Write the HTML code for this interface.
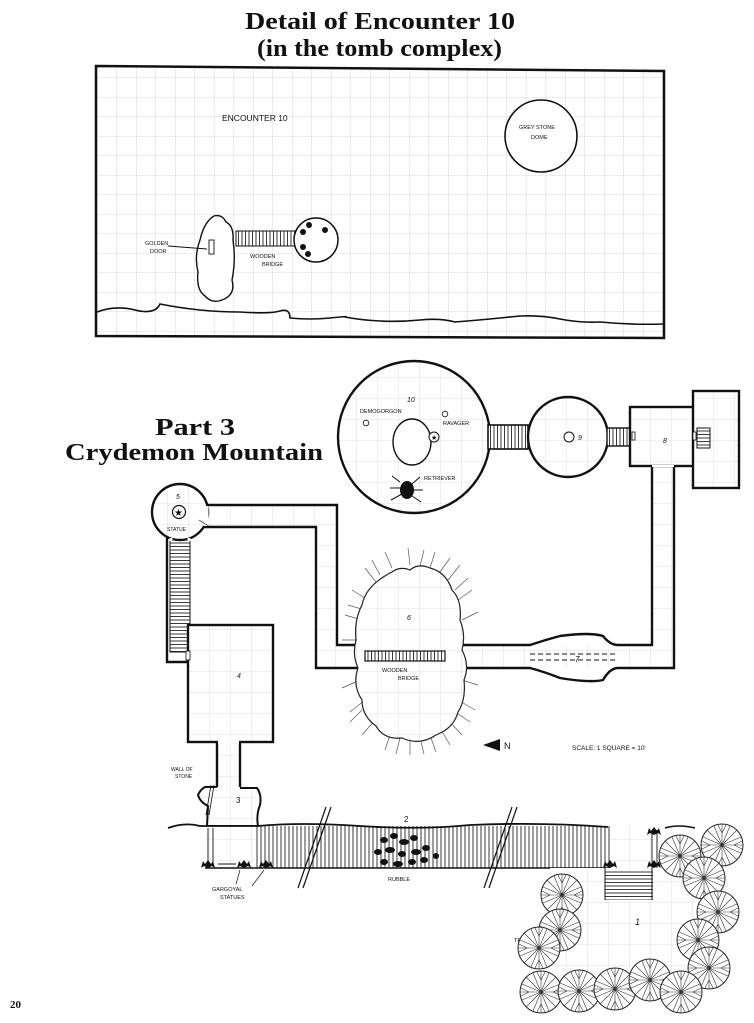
<!DOCTYPE html>
<html><head><meta charset="utf-8"><style>
html,body{margin:0;padding:0;background:#fff}
svg{display:block}
.t{font-family:"Liberation Serif",serif;font-weight:bold;fill:#111}
.l{font-family:"Liberation Sans",sans-serif;fill:#111}
</style></head><body>
<svg width="754" height="1023" viewBox="0 0 754 1023" xmlns="http://www.w3.org/2000/svg">
<defs>
<pattern id="g" width="19.5" height="19.5" patternUnits="userSpaceOnUse" x="0" y="0">
<path d="M19.5 0V19.5H0" fill="none" stroke="#d0d0d0" stroke-width="0.8"/>
</pattern>
<pattern id="g2" width="21" height="21" patternUnits="userSpaceOnUse">
<rect width="21" height="21" fill="#fff"/>
<path d="M21 0V21H0" fill="none" stroke="#d6d6d6" stroke-width="0.8"/>
</pattern>
<pattern id="hv" width="4" height="10" patternUnits="userSpaceOnUse">
<rect width="4" height="10" fill="#fff"/><path d="M1 0V10" stroke="#222" stroke-width="0.9"/>
</pattern>
<pattern id="st" width="10" height="3.5" patternUnits="userSpaceOnUse">
<rect width="10" height="3.5" fill="#fff"/><path d="M0 0.5H10" stroke="#222" stroke-width="0.9"/>
</pattern>
<pattern id="sv" width="3.5" height="10" patternUnits="userSpaceOnUse">
<rect width="3.5" height="10" fill="#fff"/><path d="M0.5 0V10" stroke="#222" stroke-width="0.9"/>
</pattern>
<g id="tree">
<circle r="21" fill="#fff" stroke="#222" stroke-width="1"/>
<g stroke="#333" stroke-width="0.6">
<path d="M0 0L0 -21M0 0L8 -19M0 0L15 -15M0 0L19 -8M0 0L21 0M0 0L19 8M0 0L15 15M0 0L8 19M0 0L0 21M0 0L-8 19M0 0L-15 15M0 0L-19 8M0 0L-21 0M0 0L-19 -8M0 0L-15 -15M0 0L-8 -19"/>
<path d="M0 -12L4 -20M0 -12L-4 -20M12 0L20 4M12 0L20 -4M0 12L4 20M0 12L-4 20M-12 0L-20 4M-12 0L-20 -4"/>
</g>
</g>
<g id="garg" fill="#111"><path d="M-7 4L-5 -3L-3 0L0 -4L3 0L5 -3L7 4L4 2L0 4L-4 2Z"/></g>
</defs>

<text class="t" x="245" y="29" font-size="24" textLength="270" lengthAdjust="spacingAndGlyphs">Detail of Encounter 10</text>
<text class="t" x="257" y="56" font-size="24" textLength="245" lengthAdjust="spacingAndGlyphs">(in the tomb complex)</text>

<!-- top box -->
<rect x="96" y="67" width="568" height="271" fill="url(#g)"/>
<path d="M96 66L664 71L664 338L96 336Z" fill="none" stroke="#111" stroke-width="2.5"/>
<path d="M97 312Q115 305 135 310T160 304Q180 308 200 310T240 312Q270 314 280 311T290 318Q310 320 330 318T345 317Q360 320 380 321T420 320T455 322Q480 320 500 318T520 316Q540 315 560 319T600 322Q630 325 663 324" fill="none" stroke="#111" stroke-width="1.6"/>
<text class="l" x="222" y="121" font-size="8.5">ENCOUNTER 10</text>
<circle cx="541" cy="136" r="36" fill="#fff" stroke="#111" stroke-width="1.6"/>
<text class="l" x="519" y="129" font-size="5.5">GREY STONE</text>
<text class="l" x="531" y="139" font-size="5.5">DOME</text>
<path d="M214 216Q222 214 226 222Q234 226 233 240Q236 260 232 280Q236 295 222 300Q212 304 205 296Q196 290 198 272Q194 256 200 240Q204 222 214 216Z" fill="#fff" stroke="#111" stroke-width="1.4"/>
<rect x="209" y="240" width="5" height="14" fill="#fff" stroke="#111" stroke-width="0.9"/>
<path d="M168 246L207 249" stroke="#111" stroke-width="0.9"/>
<text class="l" x="145" y="245" font-size="5.5">GOLDEN</text>
<text class="l" x="150" y="253" font-size="5.5">DOOR</text>
<rect x="236" y="231" width="62" height="15" fill="url(#sv)" stroke="#111" stroke-width="1"/>
<text class="l" x="250" y="258" font-size="5.5">WOODEN</text>
<text class="l" x="262" y="266" font-size="5.5">BRIDGE</text>
<circle cx="316" cy="240" r="22" fill="#fff" stroke="#111" stroke-width="1.5"/>
<g fill="#111"><circle cx="303" cy="232" r="3"/><circle cx="309" cy="225" r="3"/><circle cx="325" cy="230" r="3"/><circle cx="303" cy="247" r="3"/><circle cx="308" cy="254" r="3"/></g>

<!-- Part 3 title -->
<text class="t" x="155" y="435" font-size="24" textLength="80" lengthAdjust="spacingAndGlyphs">Part 3</text>
<text class="t" x="65" y="460" font-size="24" textLength="258" lengthAdjust="spacingAndGlyphs">Crydemon Mountain</text>

<!-- corridors -->
<g fill="url(#g2)" stroke="none">
<path d="M200 505H337V645H360V668H316V527H200Z"/>
<path d="M455 645H652V466H674V668H455Z"/>
<rect x="167" y="535" width="23" height="127"/>
<rect x="217" y="740" width="23" height="50"/>
</g>
<g fill="none" stroke="#111" stroke-width="2.4">
<path d="M203 505H337V645H358"/>
<path d="M203 527H316V668H358"/>
<path d="M462 645H530Q545 640 560 636Q590 632 603 636Q610 645 618 645H652V466"/>
<path d="M462 668H530Q545 672 560 678Q590 683 603 680Q610 668 618 668H674V466"/>
<path d="M167 535V662H188"/>
<path d="M217 742V787M240 742V787"/>
</g>
<path d="M530 654H615M530 660H615" stroke="#111" stroke-width="1" stroke-dasharray="5 3"/>
<text class="l" x="575" y="662" font-size="8" font-style="italic">7</text>
<rect x="170" y="540" width="20" height="112" fill="url(#st)" stroke="#111" stroke-width="1"/>

<!-- room 10 -->
<ellipse cx="414" cy="437" rx="76" ry="76" fill="url(#g2)" stroke="#111" stroke-width="2.4"/>
<ellipse cx="412" cy="442" rx="19" ry="23" fill="#fff" stroke="#111" stroke-width="1.4"/>
<text class="l" x="407" y="402" font-size="7" font-style="italic">10</text>
<text class="l" x="360" y="413" font-size="5.5">DEMOGORGON</text>
<circle cx="366" cy="423" r="2.8" fill="#fff" stroke="#111" stroke-width="0.8"/>
<circle cx="445" cy="414" r="2.8" fill="#fff" stroke="#111" stroke-width="0.8"/>
<text class="l" x="443" y="425" font-size="5.5">RAVAGER</text>
<circle cx="434" cy="437" r="5" fill="#fff" stroke="#111" stroke-width="1"/>
<text class="l" x="431" y="440" font-size="7">★</text>
<text class="l" x="424" y="480" font-size="5.5">RETRIEVER</text>
<g stroke="#111" stroke-width="1" fill="none"><path d="M400 482L392 476M402 488L390 488M402 494L391 500M412 484L420 477M412 490L423 490M412 496L421 502"/></g>
<ellipse cx="407" cy="490" rx="7" ry="9" fill="#111"/>
<rect x="488" y="425" width="40" height="24" fill="url(#sv)" stroke="#111" stroke-width="1.6"/>
<circle cx="568" cy="437" r="40" fill="url(#g2)" stroke="#111" stroke-width="2.4"/>
<circle cx="569" cy="437" r="5" fill="#fff" stroke="#111" stroke-width="1"/>
<text class="l" x="578" y="440" font-size="7" font-style="italic">9</text>
<rect x="607" y="428" width="24" height="18" fill="url(#sv)" stroke="#111" stroke-width="1.4"/>
<!-- room 8 -->
<rect x="630" y="407" width="66" height="59" fill="url(#g2)" stroke="#111" stroke-width="2.4"/>
<rect x="693" y="391" width="46" height="97" fill="url(#g2)" stroke="#111" stroke-width="2.4"/>
<rect x="697" y="428" width="13" height="20" fill="url(#st)" stroke="#111" stroke-width="1"/>
<rect x="632" y="432" width="3" height="8" fill="#fff" stroke="#111" stroke-width="0.8"/>
<rect x="693" y="432" width="3" height="8" fill="#fff" stroke="#111" stroke-width="0.8"/>
<text class="l" x="663" y="443" font-size="7" font-style="italic">8</text>
<path d="M652 466H674" stroke="#fff" stroke-width="2"/>

<!-- room 5 -->
<circle cx="180" cy="512" r="28" fill="url(#g2)" stroke="#111" stroke-width="2.4"/>
<path d="M206 506V526" stroke="#fff" stroke-width="5"/>
<path d="M171 538V541M189 538V541" stroke="#fff" stroke-width="3"/>
<text class="l" x="176" y="499" font-size="7" font-style="italic">5</text>
<circle cx="179" cy="512" r="6.5" fill="#fff" stroke="#111" stroke-width="1.2"/>
<text x="174" y="516" font-size="10" fill="#111">★</text>
<text class="l" x="167" y="531" font-size="5">STATUE</text>
<path d="M199 520L210 527" stroke="#111" stroke-width="0.7"/>

<!-- room 4 -->
<rect x="188" y="625" width="85" height="117" fill="url(#g2)" stroke="#111" stroke-width="2.4"/>
<rect x="186" y="651" width="4" height="9" fill="#fff" stroke="#111" stroke-width="0.8"/>
<path d="M218 742H239" stroke="#fff" stroke-width="3"/>
<text class="l" x="237" y="678" font-size="7" font-style="italic">4</text>

<!-- cavern 6 -->
<g stroke="#555" stroke-width="0.7">
<path d="M368 600L352 590M362 620L345 615M360 640L342 640M360 680L342 688M365 700L350 712M375 720L362 735M390 735L385 750M410 738L410 755M430 735L436 752M448 720L462 735M458 700L475 710M462 680L478 685M462 620L478 612M458 600L472 590M448 580L460 565M430 568L435 552M410 565L408 548M392 568L385 552M376 582L365 568M380 575L372 560M420 566L424 550M440 572L450 558M455 590L468 578M365 610L348 605M362 710L350 722M400 738L396 754M420 738L424 754M440 728L450 745M455 712L470 722"/>
</g>
<path d="M392 572Q400 566 410 570Q418 563 430 568Q446 572 452 590Q462 600 460 620Q466 635 462 650Q470 665 464 680Q466 700 458 712Q454 728 436 735Q420 746 402 738Q384 740 376 726Q362 716 362 700Q352 685 358 668Q352 655 356 640Q354 620 362 605Q366 585 392 572Z" fill="url(#g2)" stroke="#222" stroke-width="1.2"/>
<rect x="365" y="651" width="80" height="10" fill="url(#sv)" stroke="#111" stroke-width="1.2"/>
<text class="l" x="407" y="620" font-size="7" font-style="italic">6</text>
<text class="l" x="382" y="672" font-size="5.5">WOODEN</text>
<text class="l" x="398" y="680" font-size="5.5">BRIDGE</text>

<!-- north & scale -->
<path d="M483 745L500 739V751Z" fill="#111"/>
<text class="l" x="504" y="749" font-size="9">N</text>
<text class="l" x="572" y="750" font-size="6.5">SCALE:  1  SQUARE = 10'</text>

<!-- room 3 -->
<path d="M217 787H205Q200 790 198 795Q200 802 208 806L207 826H258Q256 815 260 805Q262 795 257 788H240" fill="url(#g2)" stroke="#111" stroke-width="2"/>
<path d="M211 785L206 815M214 785L209 815" stroke="#111" stroke-width="0.8"/>
<text class="l" x="171" y="771" font-size="5">WALL OF</text>
<text class="l" x="175" y="778" font-size="5">STONE</text>
<text class="l" x="236" y="803" font-size="8">3</text>

<!-- area 2 -->
<rect x="255" y="826" width="355" height="42" fill="url(#hv)"/>
<rect x="206" y="826" width="49" height="42" fill="url(#g2)"/>
<rect x="610" y="826" width="45" height="42" fill="url(#g2)"/>
<path d="M168 828Q185 822 200 826H258Q300 822 360 826T470 825Q540 822 608 827" fill="none" stroke="#111" stroke-width="1.8"/>
<path d="M665 828Q678 824 695 828" fill="none" stroke="#111" stroke-width="1.6"/>
<path d="M205 868H610" stroke="#111" stroke-width="1.5"/>
<path d="M208 828V862M213 828V862M652 830V895M657 830V895" stroke="#111" stroke-width="0.9"/>
<path d="M298 888L326 807M303 888L331 807M484 888L512 807M489 888L517 807" stroke="#111" stroke-width="1.2"/>
<g fill="#111">
<ellipse cx="384" cy="840" rx="4" ry="3"/><ellipse cx="394" cy="836" rx="4" ry="3"/><ellipse cx="404" cy="842" rx="5" ry="3"/><ellipse cx="414" cy="838" rx="4" ry="3"/><ellipse cx="378" cy="852" rx="4" ry="3"/><ellipse cx="390" cy="850" rx="5" ry="3"/><ellipse cx="402" cy="854" rx="4" ry="3"/><ellipse cx="416" cy="852" rx="5" ry="3"/><ellipse cx="426" cy="848" rx="4" ry="3"/><ellipse cx="384" cy="862" rx="4" ry="3"/><ellipse cx="398" cy="864" rx="5" ry="3"/><ellipse cx="412" cy="862" rx="4" ry="3"/><ellipse cx="424" cy="860" rx="4" ry="3"/><ellipse cx="436" cy="856" rx="3" ry="3"/>
</g>
<text class="l" x="404" y="822" font-size="8">2</text>
<text class="l" x="388" y="881" font-size="5.5">RUBBLE</text>
<use href="#garg" x="208" y="864"/><use href="#garg" x="244" y="864"/><use href="#garg" x="266" y="864"/>
<use href="#garg" x="610" y="864"/><use href="#garg" x="654" y="864"/><use href="#garg" x="654" y="831"/>
<use href="#garg" x="610" y="903"/><use href="#garg" x="654" y="903"/>
<path d="M218 864H236" stroke="#111" stroke-width="1"/>
<path d="M240 870L236 884M264 870L252 886" stroke="#111" stroke-width="0.7"/>
<text class="l" x="212" y="891" font-size="5.5">GARGOYAL</text>
<text class="l" x="220" y="899" font-size="5.5">STATUES</text>

<!-- area 1 -->
<rect x="550" y="868" width="170" height="125" fill="url(#g2)"/>
<rect x="605" y="870" width="48" height="30" fill="url(#st)"/>
<path d="M605 868V900M652 868V900" stroke="#111" stroke-width="1"/>
<text class="l" x="514" y="942" font-size="5.5">TREES</text>
<text class="l" x="635" y="925" font-size="9" font-style="italic">1</text>
<use href="#tree" x="680" y="856"/><use href="#tree" x="722" y="845"/><use href="#tree" x="704" y="878"/>
<use href="#tree" x="718" y="912"/><use href="#tree" x="698" y="940"/>
<use href="#tree" x="709" y="968"/><use href="#tree" x="562" y="895"/><use href="#tree" x="560" y="930"/>
<use href="#tree" x="539" y="948"/><use href="#tree" x="541" y="992"/><use href="#tree" x="579" y="991"/>
<use href="#tree" x="615" y="989"/><use href="#tree" x="650" y="980"/><use href="#tree" x="681" y="992"/>

<text class="t" x="10" y="1008" font-size="11">20</text>
</svg>
</body></html>
